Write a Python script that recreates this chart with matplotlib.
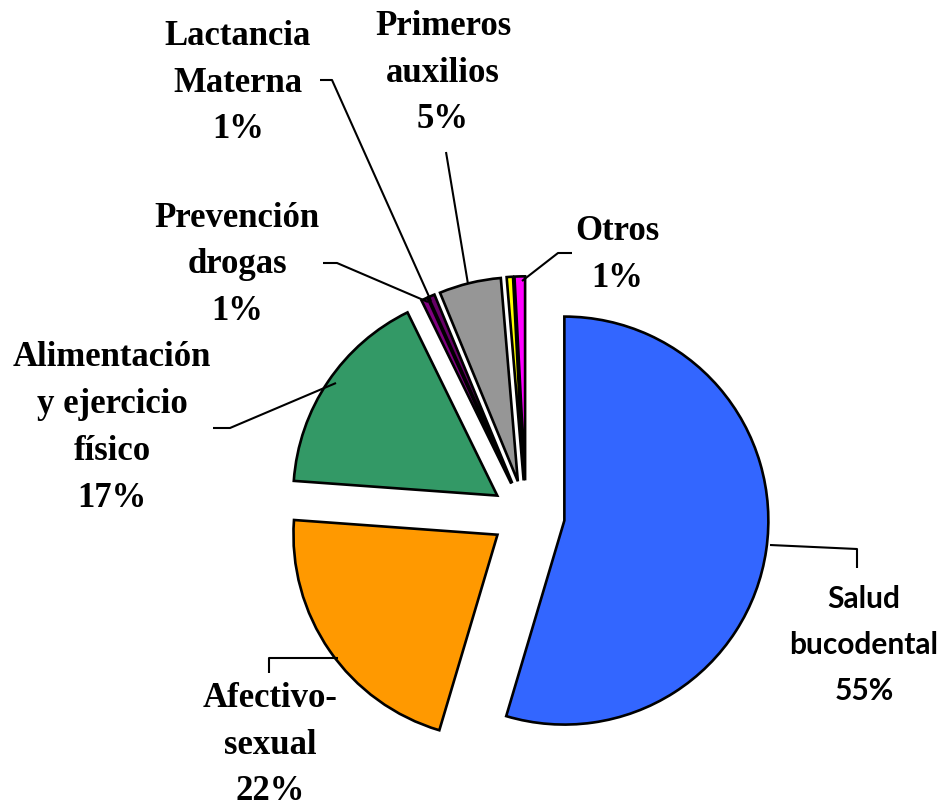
import matplotlib.pyplot as plt

# share of health-education topics (%)
categories = ["Salud\nbucodental", "Afectivo-\nsexual", "Alimentación\ny ejercicio\nfísico",
              "Prevención\ndrogas", "Lactancia\nMaterna", "Primeros\nauxilios", "", "Otros"]
values = [54.6, 21.55, 16.6, 0.51, 0.51, 4.9, 0.5, 0.83]
colors = ["#3366FF", "#FF9900", "#339966", "#800080", "#660066", "#969696", "#FFFF00", "#FF00FF"]

W, H = 943, 808
cx, cy, R = 526, 515, 204   # pie centre and radius in pixels


def px(x, y):
    return ((x - cx) / R, (cy - y) / R)


# label centres (pixels) and leader lines
label_pos = [(864, 645), (270, 745), (112, 428), (237, 265), (238, 83), (443, 73), None, (617, 255)]
leaders = [
    [(770, 545), (857, 549), (857, 568)],
    [(338, 658), (269, 658), (269, 673)],
    [(336, 383), (230, 428), (213, 428)],
    [(428, 302), (337, 263), (323, 263)],
    [(431, 301), (332, 80), (320, 80)],
    [(468, 284), (446, 152)],
    None,
    [(522, 281), (558, 253), (572, 253)],
]
explode = [0.19, 0.17, 0.17, 0.17, 0.17, 0.17, 0.17, 0.17]

fig = plt.figure(figsize=(W / 100, H / 100), dpi=100)
ax = fig.add_axes([0, 0, 1, 1])
ax.pie(values, colors=colors, startangle=90, counterclock=False, explode=explode,
       wedgeprops=dict(edgecolor="black", linewidth=1.9, joinstyle="miter"))
ax.set_xlim(-cx / R, (W - cx) / R)
ax.set_ylim((cy - H) / R, cy / R)
ax.set_aspect("equal")
ax.axis("off")

for i, (name, v) in enumerate(zip(categories, values)):
    if not name:
        continue
    pts = [px(*p) for p in leaders[i]]
    ax.plot([p[0] for p in pts], [p[1] for p in pts], color="black", lw=1.5, solid_capstyle="butt")
    x, y = px(*label_pos[i])
    txt = f"{name}\n{v:.0f}%"
    if i == 0:
        ax.text(x, y, txt, ha="center", va="center", fontsize=21.5, fontweight="bold",
                family="Lato", linespacing=1.8)
    else:
        ax.text(x, y, txt, ha="center", va="center", fontsize=25, fontweight="bold",
                family="Liberation Serif", linespacing=1.55)

fig.savefig("out.png", dpi=100)
